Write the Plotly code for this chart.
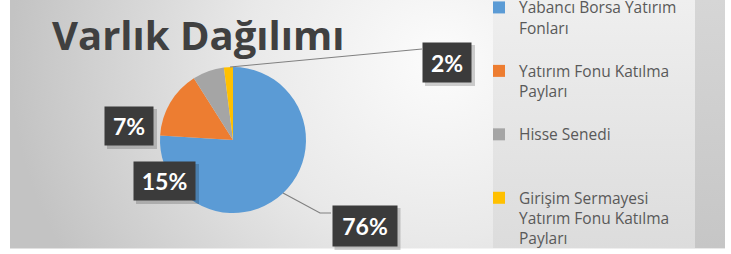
import plotly.graph_objects as go

# ---- data ----
categories = [
    "Yabancı Borsa Yatırım<br>Fonları",
    "Yatırım Fonu Katılma<br>Payları",
    "Hisse Senedi",
    "Girişim Sermayesi<br>Yatırım Fonu Katılma<br>Payları",
]
values = [76, 15, 7, 2]
slice_colors = ["#5B9BD5", "#ED7D31", "#A5A5A5", "#FFC000"]
title_text = "Varlık Dağılımı"

W, H = 731, 254
FONT = "Open Sans"

# pad legend names to 3 lines so each entry occupies the same slot
def pad(name, n=3):
    k = name.count("<br>") + 1
    return name + "<br>\u00a0" * (n - k)

legend_names = [pad(c) for c in categories]

fig = go.Figure()

# ---- background (decorative) ----
fig.add_trace(go.Scatter(
    x=[10, 870, 870, 10, 10], y=[-340, -340, 460, 460, -340],
    mode="none", fill="toself", showlegend=False, hoverinfo="skip",
    fillgradient=dict(type="radial",
                      colorscale=[[0, "#fcfcfc"], [0.45, "#e9e9e9"], [1, "#c3c3c3"]]),
))
fig.add_trace(go.Scatter(
    x=[493, 695, 695, 493, 493], y=[0, 0, 248, 248, 0],
    mode="none", fill="toself", showlegend=False, hoverinfo="skip",
    fillgradient=dict(type="vertical", start=0, stop=248,
                      colorscale=[[0, "#efefef"], [1, "#dcdcdc"]]),
))
fig.add_trace(go.Scatter(
    x=[695, 725, 725, 695, 695], y=[0, 0, 248, 248, 0],
    mode="none", fill="toself", showlegend=False, hoverinfo="skip",
    fillgradient=dict(type="vertical", start=0, stop=248,
                      colorscale=[[0, "#d6d6d6"], [1, "#c6c6c6"]]),
))

# ---- pie ----
cx, cy, r = 233, 140, 73
fig.add_trace(go.Pie(
    labels=legend_names, values=values, sort=False, direction="clockwise",
    rotation=0, textinfo="none", hoverinfo="skip",
    marker=dict(colors=slice_colors, line=dict(width=0)),
    domain=dict(x=[(cx - r) / W, (cx + r) / W],
                y=[(H - cy - r) / H, (H - cy + r) / H]),
))

shapes = [
    # white margins around chart area
    dict(type="rect", x0=0, x1=10, y0=0, y1=254, fillcolor="white", line_width=0, layer="above"),
    dict(type="rect", x0=725, x1=731, y0=0, y1=254, fillcolor="white", line_width=0, layer="above"),
    dict(type="rect", x0=0, x1=731, y0=248.5, y1=254, fillcolor="white", line_width=0, layer="above"),
    # leader lines
    dict(type="path", path="M283,193 L320,213 L331,213", line=dict(color="#808080", width=1.2), layer="above"),
    dict(type="line", x0=230, y0=67, x1=422, y1=49, line=dict(color="#808080", width=1.2), layer="above"),
]

# data label boxes (layout positions)
label_pos = [(364.5, 226, 66, 42), (164.5, 181, 63, 40), (129, 126, 50, 40), (447, 62.5, 50, 41)]
annotations = []
for v, (x, y, w, h) in zip(values, label_pos):
    # soft shadow behind each label box
    shapes.append(dict(type="rect", x0=x - w / 2 + 3, x1=x + w / 2 + 3,
                       y0=y - h / 2 + 3, y1=y + h / 2 + 3,
                       fillcolor="rgba(0,0,0,0.18)", line_width=0, layer="above"))
    annotations.append(dict(
        x=x, y=y, xref="x", yref="y", text=f"<b>{v}%</b>", showarrow=False,
        width=w - 2, height=h - 2, bgcolor="#3b3b3b", borderpad=0,
        font=dict(family="Lato", size=23, color="white"),
        xanchor="center", yanchor="middle",
    ))
annotations.append(dict(
    x=198, y=34, xref="x", yref="y", text=f"<b>{title_text}</b>", showarrow=False,
    font=dict(family=FONT, size=40, color="#404040"), xanchor="center", yanchor="middle",
))

fig.update_layout(
    width=W, height=H, margin=dict(l=0, r=0, t=0, b=0, autoexpand=False),
    paper_bgcolor="white", plot_bgcolor="rgba(0,0,0,0)",
    xaxis=dict(range=[0, W], visible=False, fixedrange=True),
    yaxis=dict(range=[H, 0], visible=False, fixedrange=True),
    shapes=shapes, annotations=annotations,
    showlegend=True,
    legend=dict(x=479 / W, xanchor="left", y=1.036, yanchor="top",
                bgcolor="rgba(0,0,0,0)", valign="top", maxheight=500,
                font=dict(family=FONT, size=15.5, color="#595959"),
                itemclick=False, itemdoubleclick=False),
    font=dict(family=FONT),
)

fig.write_html(
    "out.html",
    config={"displayModeBar": False},
    post_script="document.body.style.margin='0';document.body.style.overflow='hidden';",
)
